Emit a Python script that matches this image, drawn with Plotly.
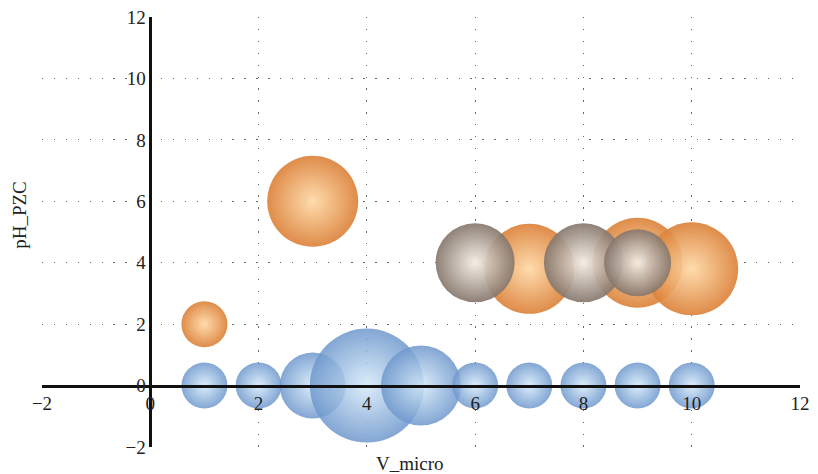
import plotly.graph_objects as go

# Series 1 (blue) : y = 0 row
blue_x = [1, 2, 3, 4, 5, 6, 7, 8, 9, 10]
blue_y = [0, 0, 0, 0, 0, 0, 0, 0, 0, 0]
blue_s = [46, 46, 66, 114, 80, 46, 46, 46, 46, 46]

# Series 2 (orange)
orange_x = [1, 3, 7, 9, 10]
orange_y = [2, 6, 3.8, 4.0, 3.8]
orange_s = [46, 91, 90, 90, 93]

# Series 3 (taupe / gray)
gray_x = [6, 8, 9]
gray_y = [4, 4, 4]
gray_s = [79, 79, 67]

x_ticks = [-2, 0, 2, 4, 6, 8, 10, 12]
y_ticks = [-2, 0, 2, 4, 6, 8, 10, 12]

fig = go.Figure()

def bubbles(x, y, s, edge, center, op):
    fig.add_trace(go.Scatter(
        x=x, y=y, mode="markers",
        marker=dict(size=s, sizemode="diameter", sizeref=1,
                    color=edge, opacity=op,
                    gradient=dict(type="radial", color=center),
                    line=dict(width=0)),
        hoverinfo="x+y", showlegend=False))

bubbles(blue_x, blue_y, blue_s, "#6d97cc", "#d6eafa", 0.85)
bubbles(orange_x, orange_y, orange_s, "#dc823a", "#ffd9a6", 0.92)
bubbles(gray_x, gray_y, gray_s, "#85766b", "#f4ede4", 0.92)

font = dict(family="Liberation Serif, Times New Roman, serif", size=19, color="#222")
pos0 = 2 / 14

def fmt(v):
    return str(v).replace("-", "\u2212")

axis_common = dict(range=[-2, 12], anchor="free", position=pos0, showline=True,
                   linecolor="#111", linewidth=2.5, zeroline=False, showgrid=True,
                   gridcolor="#666", gridwidth=1.4, griddash="1.4px,10.5px", ticks="",
                   tickfont=font, automargin=False, ticklabeloverflow="allow")

# page body has an 8px default margin: size the figure to fit the 818x474 window
fig.update_layout(
    width=810, height=466,
    margin=dict(l=34, r=18, t=9, b=27),
    paper_bgcolor="white", plot_bgcolor="white",
    font=font,
    xaxis=dict(tickvals=x_ticks, ticktext=[fmt(v) for v in x_ticks], **axis_common),
    yaxis=dict(tickvals=y_ticks, ticktext=[fmt(v) for v in y_ticks], **axis_common),
    annotations=[
        dict(text="V_micro", xref="paper", yref="paper", x=0.485, y=0, yshift=-16,
             showarrow=False, xanchor="center", yanchor="middle", font=font),
        dict(text="pH_PZC", xref="paper", yref="paper", x=0, xshift=-22, y=0.54,
             showarrow=False, xanchor="center", yanchor="middle", textangle=-90, font=font),
    ],
)

fig.write_html("out.html")
